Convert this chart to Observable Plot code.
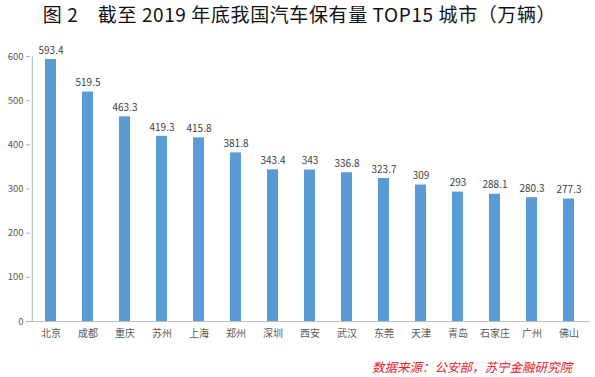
<!DOCTYPE html>
<html><head><meta charset="utf-8">
<script src="https://cdn.jsdelivr.net/npm/d3@7"></script>
<script src="https://cdn.jsdelivr.net/npm/@observablehq/plot@0.6"></script>
<style>
body{margin:0;background:#fff;width:595px;height:377px;overflow:hidden;position:relative;font-family:"Noto Sans CJK SC",sans-serif}
#title{height:30px;line-height:28px;text-align:center;font-size:19px;color:#111;letter-spacing:0.6px;padding-left:4px}
#src{position:absolute;left:372px;top:357px;font-size:12.5px;color:#e8202a;font-style:italic}
</style></head><body>
<div id="title">图 2&nbsp;&nbsp;&nbsp;&nbsp;截至 2019 年底我国汽车保有量 TOP15 城市（万辆）</div>
<div id="chart"></div>
<div id="src">数据来源：公安部，苏宁金融研究院</div>
<script>
const cities = ["北京","成都","重庆","苏州","上海","郑州","深圳","西安","武汉","东莞","天津","青岛","石家庄","广州","佛山"];
const values = [593.4,519.5,463.3,419.3,415.8,381.8,343.4,343,336.8,323.7,309,293,288.1,280.3,277.3];
const yTicks = [0,100,200,300,400,500,600];
const data = cities.map((c,i)=>({city:c,value:values[i]}));
const plot = Plot.plot({
  width:595, height:347,
  marginTop:26, marginBottom:56, marginLeft:30, marginRight:5,
  style:{fontFamily:"'Noto Sans CJK SC',sans-serif",fontSize:"9.5px",color:"#595959",background:"#fff"},
  x:{domain:cities, padding:0.7, paddingOuter:0.35, label:null},
  y:{domain:[0,600], label:null},
  marks:[
    Plot.axisY({ticks:yTicks, tickSize:4, tickPadding:3, stroke:"#a6b6c8", fill:"#595959", fontSize:9.5}),
    Plot.ruleX([0],{x:()=>cities[0], dx:-18.7, stroke:"#a6b6c8"}),
    Plot.barY(data,{x:"city",y:"value",fill:"#5b9bd5"}),
    Plot.ruleY([0],{stroke:"#bfbfbf"}),
    Plot.axisX({tickSize:0, tickPadding:8, fill:"#595959", fontSize:10}),
    Plot.text(data,{x:"city",y:"value",text:d=>String(d.value),dy:-9,fill:"#404040",fontSize:10})
  ]
});
document.getElementById("chart").appendChild(plot);
</script>
</body></html>
